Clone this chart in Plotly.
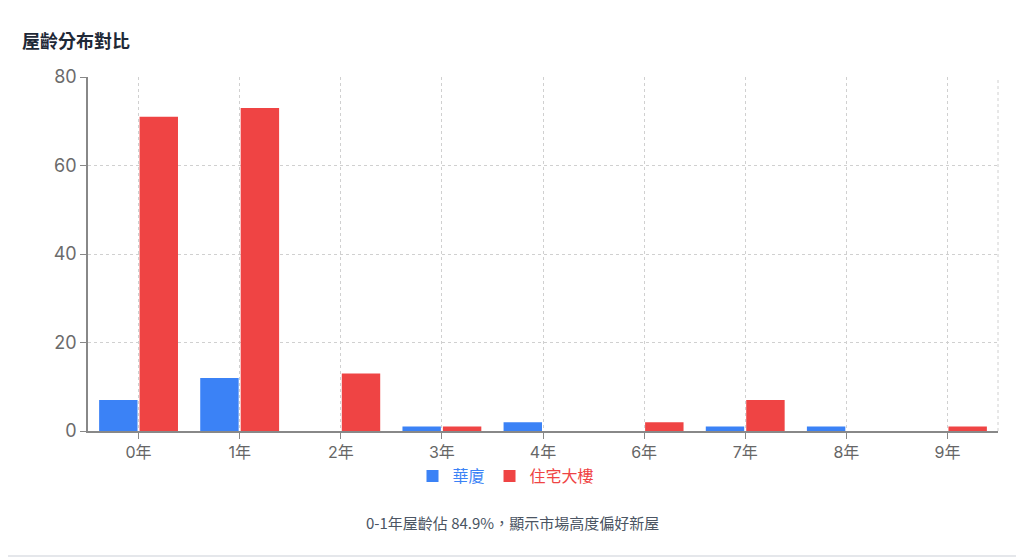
# 屋齡分布對比 - grouped bar chart

import plotly.graph_objects as go

# data
ages = ['0年', '1年', '2年', '3年', '4年', '6年', '7年', '8年', '9年']
huaxia = [7, 12, 0, 1, 2, 0, 1, 1, 0]
dalou = [71, 73, 13, 1, 0, 2, 7, 0, 1]

blue = '#3b82f6'
red = '#ef4444'

# page body has an 8px margin, so shift everything up/left by that
off = 8
W, H = 1024 - off, 558 - off
ml, mt = 88 - off, 77 - off
mr = W - (998 - off)
mb = H - (431 - off)
pw = W - ml - mr
ph = H - mt - mb

fig = go.Figure()
fig.add_trace(go.Bar(x=ages, y=huaxia,
    name="<span style='color:%s'>華廈</span>" % blue,
    marker=dict(color=blue, line=dict(width=0))
    ))
fig.add_trace(go.Bar(x=ages, y=dalou,
    name="<span style='color:%s'>住宅大樓</span>" % red,
    marker=dict(color=red, line=dict(width=0))
    ))

font = "Inter, 'Noto Sans CJK TC', sans-serif"
cjk = "'Noto Sans CJK TC', sans-serif"

fig.update_layout(
    width=W, height=H,
    margin=dict(l=ml, r=mr, t=mt, b=mb),
    paper_bgcolor='white', plot_bgcolor='white',
    barmode='group', bargap=0.2, bargroupgap=0.05,
    font=dict(family=font, color='#666'),
    title=dict(text='<b>屋齡分布對比</b>', xref='container', x=(22 - off) / W,
        xanchor='left', yref='container', y=1 - (42 - off) / H, yanchor='middle',
        font=dict(size=18, color='#1f2937', family=cjk)),
    showlegend=True,
    legend=dict(orientation='h', x=(506 - 88) / pw, xanchor='center',
        y=-28 / ph, yanchor='top',
        font=dict(size=16, family=cjk),
        traceorder='normal'),
)

fig.update_xaxes(
    showline=True, linecolor='#888', linewidth=1.5,
    showgrid=True, gridcolor='#d0d0d0', griddash='3px,3px', gridwidth=1,
    ticks='outside', ticklen=6, tickcolor='#888',
    tickfont=dict(size=16, color='#666'),
)
fig.update_yaxes(
    range=[0, 80], dtick=20,
    showline=True, linecolor='#888', linewidth=1.5,
    showgrid=True, gridcolor='#d0d0d0', griddash='3px,3px', gridwidth=1,
    ticks='outside', ticklen=6, tickcolor='#888',
    tickfont=dict(size=18, color='#6b6b6b'),
    zeroline=False,
)

# dashed right edge of the plot area
fig.add_shape(type='line', xref='paper', yref='paper', x0=1, x1=1, y0=0, y1=1,
    line=dict(color='#d0d0d0', width=1, dash='3px,3px'))

# card border at the bottom
fig.add_shape(type='line', xref='paper', yref='paper',
    x0=-ml / pw, x1=(W - ml) / pw,
    y0=-(556 - 431) / ph, y1=-(556 - 431) / ph,
    line=dict(color='#e5e7eb', width=2))

fig.add_annotation(text='0-1年屋齡佔 84.9%，顯示市場高度偏好新屋',
    xref='paper', yref='paper', x=(512 - 88) / pw, y=-(522 - 431) / ph,
    xanchor='center', yanchor='middle', showarrow=False,
    font=dict(size=15, color='#4b5563', family=cjk))

fig.write_html("out.html")
